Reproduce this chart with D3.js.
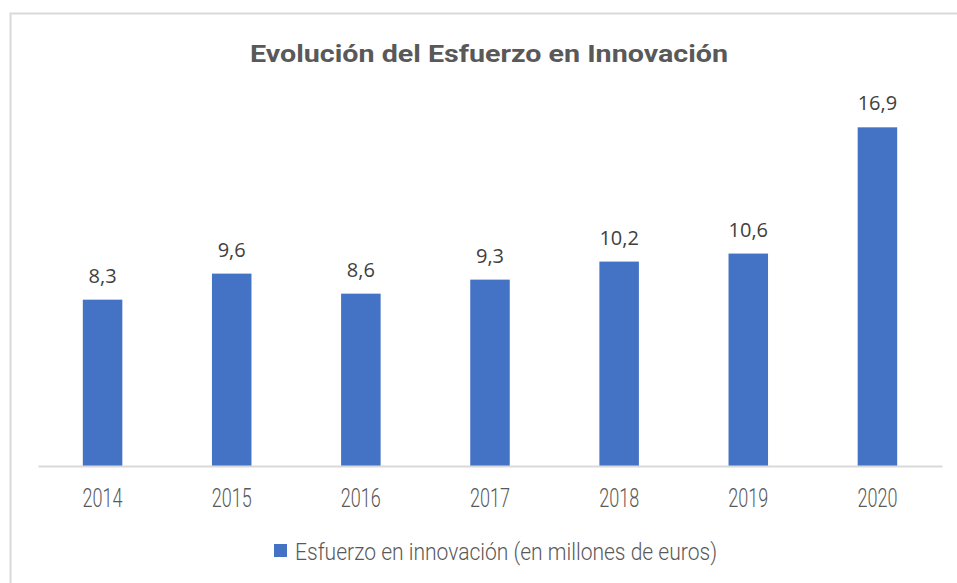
<!DOCTYPE html>
<html><head><meta charset="utf-8">
<script src="https://cdn.jsdelivr.net/npm/d3@7"></script>
<style>html,body{margin:0;padding:0;background:#fff;}svg{display:block;}</style>
</head><body>
<svg id="chart" width="957" height="583"></svg>
<script>
const categories = ["2014","2015","2016","2017","2018","2019","2020"];
const values = [8.3, 9.6, 8.6, 9.3, 10.2, 10.6, 16.9];
const labels = ["8,3","9,6","8,6","9,3","10,2","10,6","16,9"];
const title = "Evolución del Esfuerzo en Innovación";
const seriesName = "Esfuerzo en innovación (en millones de euros)";

const condFont = "Roboto, 'Noto Sans', sans-serif";
const svg = d3.select("#chart");
// chart area border
svg.append("rect").attr("x",10.5).attr("y",13.5).attr("width",960).attr("height",600)
  .attr("fill","#fff").attr("stroke","#d9d9d9").attr("stroke-width",2);

const x = d3.scaleBand().domain(categories).range([38,942]).paddingInner(0.694).paddingOuter(0.347);
const y = d3.scaleLinear().domain([0, 18]).range([466, 466 - 18*20.04]);

svg.selectAll("rect.bar").data(values).join("rect").attr("class","bar")
  .attr("x",(d,i)=>x(categories[i])).attr("width",x.bandwidth())
  .attr("y",d=>y(d)).attr("height",d=>y(0)-y(d)).attr("fill","#4472C4");

svg.selectAll("text.lbl").data(values).join("text").attr("class","lbl")
  .attr("x",(d,i)=>x(categories[i])+x.bandwidth()/2).attr("y",d=>y(d)-17)
  .attr("text-anchor","middle").attr("font-family","'Open Sans'").attr("font-size",20)
  .attr("fill","#404040").text((d,i)=>labels[i]);

const axis = d3.axisBottom(x).tickSize(0).tickPadding(23);
const g = svg.append("g").attr("transform","translate(0,466)").call(axis);
g.select(".domain").attr("stroke","#d9d9d9").attr("stroke-width",2);
g.selectAll(".tick text").attr("font-family",condFont).attr("font-weight",300).attr("font-size",26)
  .attr("fill","#595959").attr("dy","0.71em")
  .attr("textLength",40).attr("lengthAdjust","spacingAndGlyphs");

svg.append("text").attr("x",489).attr("y",62).attr("text-anchor","middle")
  .attr("font-family",condFont).attr("font-weight","bold").attr("font-size",24)
  .attr("fill","#595959").attr("textLength",478).attr("lengthAdjust","spacingAndGlyphs").text(title);

// legend
svg.append("rect").attr("x",274).attr("y",544).attr("width",13).attr("height",13).attr("fill","#4472C4");
svg.append("text").attr("x",295).attr("y",560)
  .attr("font-family",condFont).attr("font-weight",300).attr("font-size",24)
  .attr("fill","#595959").attr("textLength",422).attr("lengthAdjust","spacingAndGlyphs").text(seriesName);
</script>
</body></html>
